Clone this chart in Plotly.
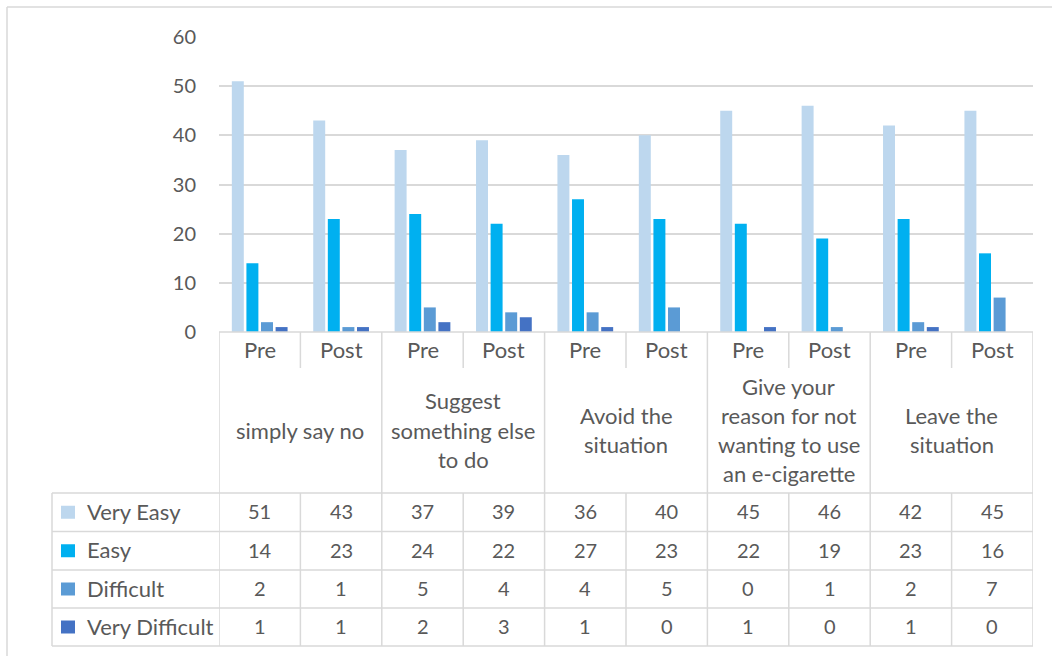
import plotly.graph_objects as go

# ---- data ----
phases = ["Pre", "Post", "Pre", "Post", "Pre", "Post", "Pre", "Post", "Pre", "Post"]
groups = [
    ["simply say no"],
    ["Suggest", "something else", "to do"],
    ["Avoid the", "situation"],
    ["Give your", "reason for not", "wanting to use", "an e-cigarette"],
    ["Leave the", "situation"],
]
series_names = ["Very Easy", "Easy", "Difficult", "Very Difficult"]
very_easy = [51, 43, 37, 39, 36, 40, 45, 46, 42, 45]
easy = [14, 23, 24, 22, 27, 23, 22, 19, 23, 16]
difficult = [2, 1, 5, 4, 4, 5, 0, 1, 2, 7]
very_difficult = [1, 1, 2, 3, 1, 0, 1, 0, 1, 0]
y_ticks = [0, 10, 20, 30, 40, 50, 60]

colors = ["#BDD7EE", "#00B0F0", "#5B9BD5", "#4472C4"]
all_series = [very_easy, easy, difficult, very_difficult]

W, H = 1052, 656
L, R, T, B = 219, 1033, 37, 332
GRID = "#D9D9D9"
TXT = "#595959"
FONT = "Lato"
FS = 20      # digits
FSW = 22     # words

def px(xp):
    return (xp - L) / (R - L)

def py(yp):
    return (B - yp) / (B - T)

fig = go.Figure()
xs = list(range(len(phases)))
for name, vals, c in zip(series_names, all_series, colors):
    fig.add_trace(go.Bar(x=xs, y=vals, name=name, marker=dict(color=c, line=dict(width=0))))

shapes = []
annots = []

def hline(y0p, x0p, x1p):
    shapes.append(dict(type="line", xref="paper", yref="paper", x0=px(x0p), x1=px(x1p),
                       y0=py(y0p), y1=py(y0p), line=dict(color=GRID, width=1.5), layer="above"))

def vline_x(xd, y0p, y1p):
    shapes.append(dict(type="line", xref="x", yref="paper", x0=xd, x1=xd,
                       y0=py(y0p), y1=py(y1p), line=dict(color=GRID, width=1.5), layer="above"))

def vline_p(xp, y0p, y1p):
    shapes.append(dict(type="line", xref="paper", yref="paper", x0=px(xp), x1=px(xp),
                       y0=py(y0p), y1=py(y1p), line=dict(color=GRID, width=1.5), layer="above"))

# outer chart border
hline(7, 7, W + 5)
vline_p(7, 7, H + 5)

# axis / table grid
n = len(phases)
row_lines = [493, 531.5, 570, 608, 646]
hline(B, L, R)
for yl in row_lines:
    hline(yl, 52, R)
vline_p(52, 493, 646)
for i in range(n + 1):
    xd = i - 0.5
    if i % 2 == 0:
        vline_x(xd, B, 646)
    else:
        vline_x(xd, B, 368)
        vline_x(xd, 493, 646)

# phase labels
for i, p in enumerate(phases):
    annots.append(dict(x=i, y=py(349), xref="x", yref="paper", text=p, showarrow=False,
                       xanchor="center", yanchor="middle", font=dict(family=FONT, size=FSW, color=TXT)))

# group labels
for g, lines in enumerate(groups):
    nl = len(lines)
    for k, line in enumerate(lines):
        yy = 430 + (k - (nl - 1) / 2) * 29.3
        annots.append(dict(x=2 * g + 0.5, y=py(yy), xref="x", yref="paper", text=line, showarrow=False,
                           xanchor="center", yanchor="middle", font=dict(family=FONT, size=FSW, color=TXT)))

# data table
for r, (name, vals, c) in enumerate(zip(series_names, all_series, colors)):
    yc = (row_lines[r] + row_lines[r + 1]) / 2
    shapes.append(dict(type="rect", xref="paper", yref="paper", x0=px(61), x1=px(75),
                       y0=py(yc - 6.5), y1=py(yc + 6.5), fillcolor=c, line=dict(width=0)))
    annots.append(dict(x=px(85), y=py(yc - 1), xref="paper", yref="paper", text=name, showarrow=False,
                       xanchor="left", yanchor="middle", font=dict(family=FONT, size=FSW, color=TXT)))
    for i, v in enumerate(vals):
        annots.append(dict(x=i, y=py(yc - 1), xref="x", yref="paper", text=str(v), showarrow=False,
                           xanchor="center", yanchor="middle", font=dict(family=FONT, size=FS, color=TXT)))

fig.update_layout(
    width=W, height=H,
    margin=dict(l=L, r=W - R, t=T, b=H - B, pad=0),
    paper_bgcolor="white", plot_bgcolor="white",
    barmode="group", bargap=0.283, bargroupgap=0.18,
    showlegend=False,
    shapes=shapes, annotations=annots,
    font=dict(family=FONT, size=FS, color=TXT),
)
fig.update_xaxes(range=[-0.5, n - 0.5], showticklabels=False, showgrid=False, zeroline=False,
                 showline=False, ticks="")
fig.update_yaxes(range=[0, 60], tickvals=y_ticks, showgrid=True, gridcolor=GRID, gridwidth=1.5,
                 zeroline=False, showline=False, ticks="", ticklabelstandoff=22,
                 tickfont=dict(family=FONT, size=FS, color=TXT))

fig.write_html("out.html")
